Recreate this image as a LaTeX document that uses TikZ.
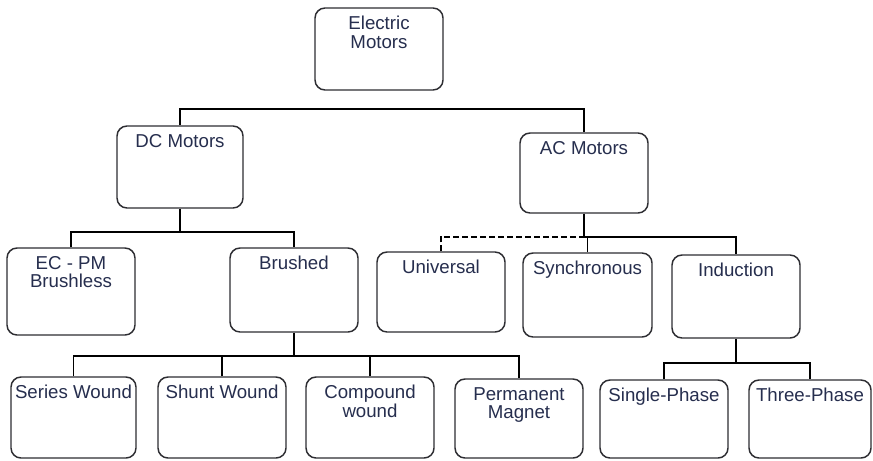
\documentclass[tikz,border=0pt]{standalone}
\usepackage{fontspec}
\setmainfont{Liberation Sans}
\definecolor{txt}{RGB}{38,46,78}
\definecolor{edge}{RGB}{45,45,50}
\begin{document}
\begin{tikzpicture}[x=0.75pt,y=-0.75pt,
  box/.style={draw=edge, line width=1.1pt, rounded corners=7.5pt, fill=white, inner sep=0pt},
  lbl/.style={anchor=north, inner sep=0pt, yshift=-6.5pt, align=center, text=txt,
              font=\fontsize{14}{14}\selectfont},
  conn/.style={line width=1.3pt, draw=black}]
\useasboundingbox (0,0) rectangle (873,460);

\node[box, minimum width=96pt, minimum height=61.5pt, label={[lbl]north:{Electric\\Motors}}] (em) at (379,49) {};
\node[box, minimum width=94.5pt, minimum height=61.5pt, label={[lbl]north:{DC Motors}}] (dc) at (180,167) {};
\node[box, minimum width=96pt, minimum height=60pt, label={[lbl]north:{AC Motors}}] (ac) at (584,173) {};

\node[box, minimum width=96pt, minimum height=65.25pt, label={[lbl]north:{EC - PM\\Brushless}}] (ec) at (71,291.5) {};
\node[box, minimum width=96pt, minimum height=63pt, label={[lbl]north:{Brushed}}] (br) at (294,290) {};
\node[box, minimum width=96pt, minimum height=60pt, label={[lbl]north:{Universal}}] (un) at (441,292) {};
\node[box, minimum width=96.75pt, minimum height=63pt, label={[lbl]north:{Synchronous}}] (sy) at (587.5,295) {};
\node[box, minimum width=96pt, minimum height=62.25pt, label={[lbl]north:{Induction}}] (ind) at (736,296.5) {};

\node[box, minimum width=93.75pt, minimum height=60.75pt, label={[lbl]north:{Series Wound}}] (sw) at (73.5,417.5) {};
\node[box, minimum width=96pt, minimum height=60.75pt, label={[lbl]north:{Shunt Wound}}] (shw) at (222,417.5) {};
\node[box, minimum width=96pt, minimum height=60.75pt, label={[lbl]north:{Compound\\wound}}] (cw) at (370,417.5) {};
\node[box, minimum width=96pt, minimum height=59.25pt, label={[lbl]north:{Permanent\\Magnet}}] (pm) at (519,418.5) {};
\node[box, minimum width=96pt, minimum height=58.5pt, label={[lbl]north:{Single-Phase}}] (sp) at (664,419) {};
\node[box, minimum width=91.5pt, minimum height=58.5pt, label={[lbl]north:{Three-Phase}}] (tp) at (810,419) {};

% level 1
\draw[conn] (dc.north) -- ++(0,-16) coordinate (topj) -| (ac.north);
% DC branch
\draw[conn] (dc.south) -- ++(0,23) coordinate (dcj);
\draw[conn] (ec.north) |- (dcj) -| (br.north);
% AC branch
\draw[conn] (ac.south) -- ++(0,23) coordinate (acj);
\draw[conn, dash pattern=on 4.5pt off 2.25pt] (un.north) |- (acj);
\draw[conn] (acj) -| (ind.north);
\draw[conn] (sy.north) -- (sy.north |- acj);
% Brushed branch
\draw[conn] (br.south) -- ++(0,23) coordinate (brj);
\draw[conn] (sw.north) |- (brj) -| (pm.north);
\draw[conn] (shw.north) -- (shw.north |- brj);
\draw[conn] (cw.north) -- (cw.north |- brj);
% Induction branch
\draw[conn] (ind.south) -- ++(0,24) coordinate (indj);
\draw[conn] (sp.north) |- (indj) -| (tp.north);
\end{tikzpicture}
\end{document}
